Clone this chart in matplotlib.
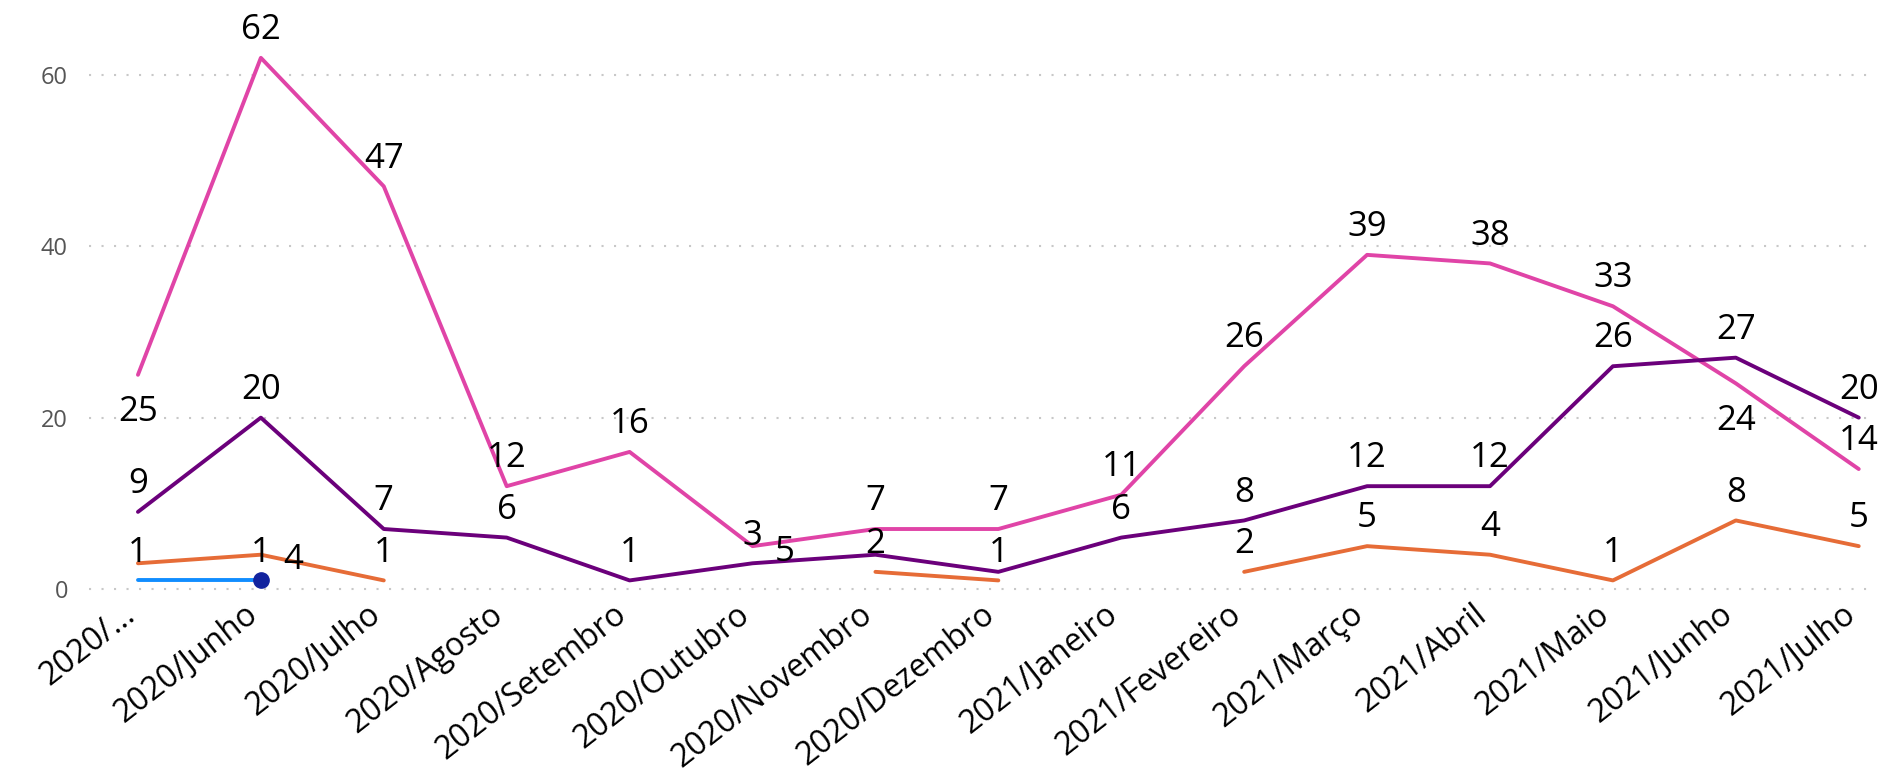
import numpy as np
import matplotlib.pyplot as plt
from matplotlib.transforms import ScaledTranslation

plt.rcParams['font.family'] = ['Open Sans', 'DejaVu Sans']

nan = np.nan

meses = [
    "2020/...", "2020/Junho", "2020/Julho", "2020/Agosto", "2020/Setembro",
    "2020/Outubro", "2020/Novembro", "2020/Dezembro", "2021/Janeiro",
    "2021/Fevereiro", "2021/Março", "2021/Abril", "2021/Maio", "2021/Junho",
    "2021/Julho",
]

rosa = [25, 62, 47, 12, 16, 5, 7, 7, 11, 26, 39, 38, 33, 24, 14]
roxo = [9, 20, 7, 6, 1, 3, 4, 2, 6, 8, 12, 12, 26, 27, 20]
laranja = [3, 4, 1, nan, nan, nan, 2, 1, nan, 2, 5, 4, 1, 8, 5]
azul = [1, 1] + [nan] * 13
azul_escuro = [nan, 1] + [nan] * 13

# posição dos rótulos: a = acima, b = abaixo, r = à direita, '' = sem rótulo
rosa_pos = ['b', 'a', 'a', 'a', 'a', 'r', 'a', 'a', 'a', 'a', 'a', 'a', 'a', 'b', 'a']
roxo_pos = ['a', 'a', 'a', 'a', 'a', 'a', '', '', 'a', 'a', 'a', 'a', 'a', 'a', 'a']
laranja_pos = ['', 'r', 'a', '', '', '', 'a', 'a', '', 'a', 'a', 'a', 'a', 'a', 'a']
azul_pos = ['a', 'a'] + [''] * 13

offsets = {'a': (0, 20), 'b': (0, -27), 'r': (23, -4)}

fig = plt.figure(figsize=(18.81, 7.73), dpi=100)
ax = fig.add_axes([0.0472, 0.2303, 0.9475, 0.7226])

x = np.arange(len(meses))
series = [
    (rosa, rosa_pos, "#E044A7"),
    (roxo, roxo_pos, "#6B007B"),
    (laranja, laranja_pos, "#E66C37"),
    (azul, azul_pos, "#118DFF"),
]
for vals, pos, cor in series:
    ax.plot(x, vals, color=cor, lw=2.8, solid_capstyle='round', zorder=3)
ax.plot(x, azul_escuro, 'o', color="#12239E", markersize=11, zorder=4)

for vals, pos, cor in series:
    for i, (v, p) in enumerate(zip(vals, pos)):
        if p == '' or np.isnan(v):
            continue
        ax.annotate(f"{int(v)}", (i, v), xytext=offsets[p], textcoords='offset points',
                    ha='center', va='center', fontsize=25, color='black',
                    annotation_clip=False, zorder=5)

ax.set_xlim(-0.4, 14.1)
ax.set_ylim(-0.7, 64.5)
ax.set_yticks([0, 20, 40, 60])
ax.grid(axis='y', color='#C8C8C8', linestyle=(0, (1, 5)), lw=1.5)
ax.set_axisbelow(True)
for s in ax.spines.values():
    s.set_visible(False)
ax.tick_params(axis='y', length=0, pad=15, labelsize=17, labelcolor='#555555')
ax.tick_params(axis='x', length=0, pad=2)
ax.set_xticks(x)
ax.set_xticklabels(meses, rotation=38, ha='right', va='top', rotation_mode='anchor',
                   fontsize=23, color='black')
desloc = ScaledTranslation(-17 / 100, 0 / 100, fig.dpi_scale_trans)
for lbl in ax.get_xticklabels():
    lbl.set_transform(lbl.get_transform() + desloc)

fig.savefig("out.png", dpi=100)
